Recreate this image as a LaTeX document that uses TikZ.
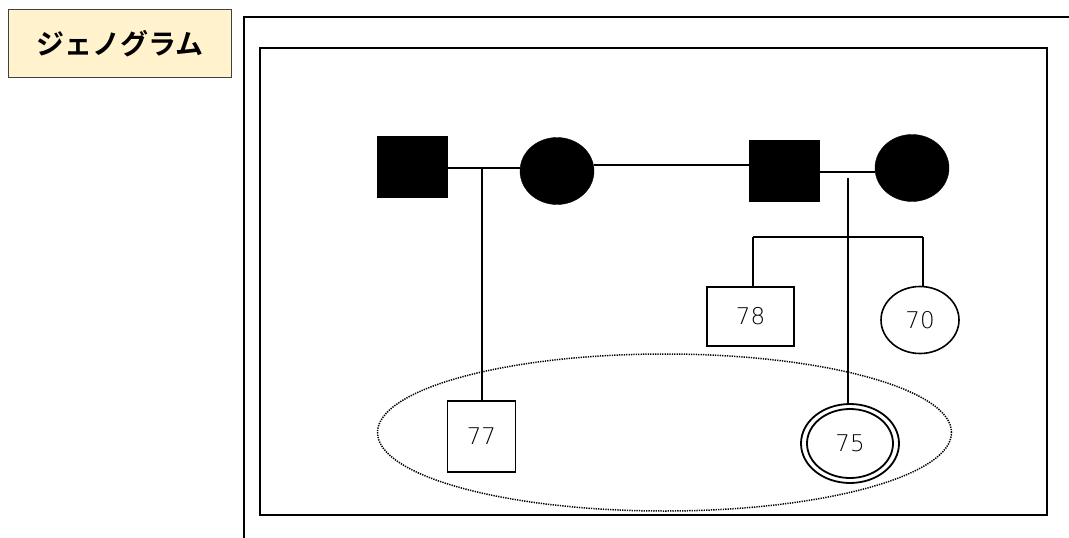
\documentclass[tikz,border=0pt]{standalone}
\usepackage{fontspec}
\setmainfont{Liberation Sans}
\newfontfamily\jpfont{Noto Sans CJK JP Bold}
\newfontfamily\numfont{DejaVu Sans ExtraLight}
\usetikzlibrary{shapes.geometric}
\definecolor{labelfill}{HTML}{FFF2CC}
\definecolor{labeldraw}{HTML}{404040}
\tikzset{
  frame/.style={line width=2.2pt},
  conn/.style={line width=2.6pt},
  fsq/.style={draw=black, fill=black, minimum width=70pt, minimum height=61pt, inner sep=0pt},
  fci/.style={ellipse, draw=black, fill=black, minimum width=74pt, minimum height=67pt, inner sep=0pt},
  osq/.style={draw=black, line width=1.6pt, inner sep=0pt, font=\numfont\fontsize{23}{26}\selectfont},
  oci/.style={ellipse, draw=black, line width=1.6pt, inner sep=0pt, font=\numfont\fontsize{23}{26}\selectfont},
}
\begin{document}
\begin{tikzpicture}[x=1pt,y=-1pt]
\useasboundingbox (0,0) rectangle (1069,538);
% title label
\node[draw=labeldraw, fill=labelfill, line width=1pt, minimum width=223pt, minimum height=68pt, inner sep=0pt,
      font=\jpfont\fontsize{28}{30}\selectfont] (title) at (120,43.5) {ジェノグラム};
% frames
\draw[frame] (1069,17) -- (244,17) -- (244,538);
\draw[frame] (260,48) rectangle (1047,515);
% parents
\node[fsq] (g1) at (412,166.5) {};
\node[fci] (g2) at (557,171) {};
\node[fsq] (g3) at (784,170.5) {};
\node[fci] (g4) at (912,168) {};
% children
\node[osq, minimum width=87pt, minimum height=59pt] (c78) at (750.5,316.5) {78};
\node[oci, minimum width=78pt, minimum height=67pt] (c70) at (920,320) {70};
\node[osq, minimum width=68pt, minimum height=71pt] (c77) at (481.5,436.5) {77};
\node[ellipse, draw=black, line width=1.8pt, minimum width=98pt, minimum height=79pt, inner sep=0pt] (c75o) at (850,443.5) {};
\node[oci, line width=1.8pt, minimum width=86pt, minimum height=69pt] (c75) at (850,443.5) {75};
% dotted group
\node[ellipse, draw=black, dash pattern=on 1.3pt off 1.1pt, line width=1.5pt, minimum width=574pt, minimum height=157pt, inner sep=0pt] (grp) at (664.5,432.5) {};
% connectors
\coordinate (m1) at (482,168);
\coordinate (m2) at (848,178);
\coordinate (sl) at (753,237);
\coordinate (sr) at (923,237);
\draw[conn] (g1.east |- m1) -- (g2.west |- m1);
\draw[conn] (g2.east |- 0,165) -- (g3.west |- 0,165);
\draw[conn] (g3.east |- 0,172) -- (g4.west |- 0,172);
\draw[conn] (m1) -- (c77.north -| m1);
\draw[conn] (m2) -- (c75o.north -| m2);
\draw[conn] (sl) -- (sr);
\draw[conn] (sl) -- (c78.north -| sl);
\draw[conn] (sr) -- (c70.north -| sr);
\end{tikzpicture}
\end{document}
